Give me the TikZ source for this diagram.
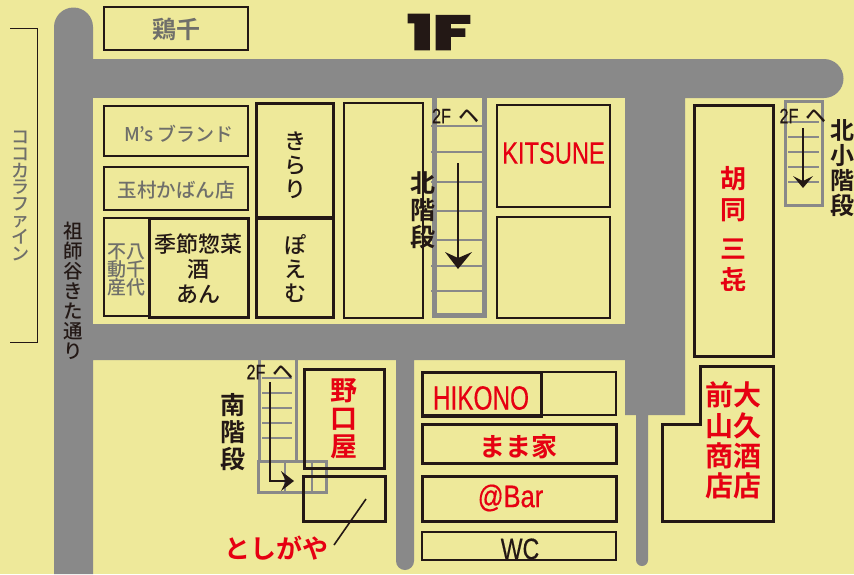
\documentclass[tikz,border=0pt]{standalone}
\usepackage{fontspec}
\newfontfamily\jp{Noto Sans CJK JP Medium}
\newfontfamily\jpb{Noto Sans CJK JP Bold}
\newfontfamily\lat[FakeBold=0.5]{Liberation Sans}
\newfontfamily\logo[FakeBold=5]{Poppins}
\definecolor{bg}{HTML}{EEE99A}
\definecolor{road}{HTML}{898989}
\definecolor{ink}{HTML}{231815}
\definecolor{soft}{HTML}{6F6F6A}
\definecolor{redt}{HTML}{E60012}
\newcommand{\fs}[2]{\fontsize{#1}{#2}\selectfont}
\newcommand{\twof}{{\scalebox{.86}[1.1]{\lat\fs{19}{19}2F}\hspace{7pt}}{\jp\fs{21}{18}ヘ}}
\tikzset{
  thick box/.style={draw=ink,line width=3pt,fill=none},
  thin box/.style={draw=ink,line width=1.2pt,fill=none},
  stair/.style={draw=road,line width=3pt},
  rung/.style={draw=road,line width=2.6pt},
  arr/.style={draw=ink,line width=2pt},
  head/.style={fill=ink,draw=none},
  lab/.style={inner sep=0pt,outer sep=0pt,align=center,text=ink},
}
\begin{document}
\begin{tikzpicture}[x=1pt,y=-1pt]
\useasboundingbox (0,0) rectangle (854,574);
\fill[bg] (0,0) rectangle (854,574);
% roads
\fill[road] (54,574) -- (54,27) arc[start angle=180,end angle=360,radius=19.5] -- (93,59) -- (824,59) arc[start angle=-90,end angle=90,radius=19.5] -- (685,98) -- (685,415) -- (648,415) -- (648,560) arc[start angle=0,end angle=180,radius=6] -- (636,415) -- (625,415) -- (625,360) -- (414,360) -- (414,561) arc[start angle=0,end angle=180,radius=9] -- (396,360) -- (93,360) -- (93,574) -- cycle;
\fill[bg] (93,98) rectangle (625,324);
% bracket
\coordinate (br1) at (10,28); \coordinate (br2) at (37,28); \coordinate (br3) at (37,342); \coordinate (br4) at (10,342);
\draw[ink,line width=1pt] (br1) -- (br2) -- (br3) -- (br4);
\node[lab,text=soft,font=\jp\fs{18}{16.6}] (cocokara) at (21,196) {コ\\コ\\カ\\ラ\\フ\\ァ\\イ\\ン};
\node[lab,font=\jp\fs{19.5}{20}] (street) at (73,291) {祖\\師\\谷\\き\\た\\通\\り};
% top
\node[thin box,minimum width=144pt,minimum height=43pt,inner sep=0] (tori) at (176,28.5) {};
\node[lab,text=soft,font=\jpb\fs{24}{24}] at (176,29) {鶏千};
\node[lab,font=\logo\bfseries\fs{47}{47}] (oneF) at (439,32) {\scalebox{1.45}[1]{1F}};
% left block
\node[thin box,minimum width=144pt,minimum height=50pt,inner sep=0] (ms) at (176,131) {};
\node[lab,text=soft,font=\jp\fs{19}{19}] at (179,134) {M’s ブランド};
\node[thin box,minimum width=144pt,minimum height=43pt,inner sep=0] (tamura) at (176,188.5) {};
\node[lab,text=soft,font=\jp\fs{19.5}{20}] at (176,190) {玉村かばん店};
\node[thin box,minimum width=45pt,minimum height=98pt,inner sep=0] (fudo) at (126.5,267) {};
\node[lab,text=soft,font=\jp\fs{19}{18}] at (126,270) {不八\\動千\\産代};
\node[thick box,minimum width=99pt,minimum height=99pt,inner sep=0] (kisetsu) at (198.5,267.5) {};
\node[lab,font=\jp\fs{22}{25}] at (198.5,269) {季節惣菜\\酒\\あん};
\node[thick box,minimum width=77pt,minimum height=114pt,inner sep=0] (kirari) at (294.5,160) {};
\node[lab,font=\jp\fs{22}{24}] at (295,165) {き\\ら\\り};
\node[thick box,minimum width=77pt,minimum height=99pt,inner sep=0] (poemu) at (294.5,267.5) {};
\node[lab,font=\jp\fs{22}{24}] at (295,269) {ぽ\\え\\む};
\node[thin box,minimum width=79pt,minimum height=215pt,inner sep=0] (empty1) at (383.5,210.5) {};
% north stairs
\foreach \y [count=\i] in {126,152,182,211,240,266,291} {
  \coordinate (nl\i) at (431,\y); \coordinate (nr\i) at (484,\y);
  \draw[rung] (nl\i) -- (nr\i);
}
\draw[stair,line width=5pt] (434.5,98) -- (434.5,315.5) -- (484.5,315.5) -- (484.5,98);
\node[lab] (n2f) at (455.5,116) {\twof};
\node[lab,font=\jpb\fs{25}{27}] (kita) at (423,210) {北\\階\\段};
\coordinate (na1) at (458,163); \coordinate (na2) at (458,262);
\draw[arr] (na1) -- (na2);
\fill[head] (445,252) -- (458,258) -- (472,252) -- (458,269) -- cycle;
% kitsune
\node[thick box,line width=2.4pt,minimum width=113pt,minimum height=102pt,inner sep=0] (kitsune) at (553.5,156) {};
\node[lab,text=redt,font=\lat\fs{28}{28}] at (553.5,153) {\scalebox{.845}[1.1]{KITSUNE}};
\node[thin box,minimum width=113pt,minimum height=101pt,inner sep=0] (empty2) at (553.5,267.5) {};
% hutong
\node[thick box,minimum width=79pt,minimum height=251pt,inner sep=0] (huton) at (733.5,230.5) {};
\node[lab,text=redt,font=\jpb\fs{26}{31}] at (733,229) {胡\\同\\[8pt]三\\㐂};
% right stairs
\draw[stair] (785,101) rectangle (822,205);
\foreach \y [count=\i] in {122,137,152,167,182} {
  \coordinate (rl\i) at (788,\y); \coordinate (rr\i) at (819,\y);
  \draw[rung] (rl\i) -- (rr\i);
}
\node[lab] (r2f) at (803,116) {\twof};
\coordinate (ra1) at (803,128); \coordinate (ra2) at (803,182);
\draw[arr] (ra1) -- (ra2);
\fill[head] (793,176) -- (803,181) -- (813,176) -- (803,188) -- cycle;
\node[lab,font=\jpb\fs{24}{25}] (kosho) at (842,168) {北\\小\\階\\段};
% south
\draw[stair] (259,358) -- (259,461) (296,358) -- (296,461);
\draw[stair] (258,461) rectangle (326,492);
\draw[stair,line width=2.5pt] (285,461) -- (285,492) (312,461) -- (312,492);
\foreach \y [count=\i] in {378,393,408,423,438} {
  \coordinate (sl\i) at (262,\y); \coordinate (sr\i) at (292,\y);
  \draw[rung] (sl\i) -- (sr\i);
}
\node[lab] (s2f) at (270,372) {\twof};
\node[lab,font=\jpb\fs{25}{27}] (minami) at (233,432) {南\\階\\段};
\coordinate (sa1) at (270,382); \coordinate (sa2) at (270,481); \coordinate (sa3) at (288,481);
\draw[arr] (sa1) -- (sa2) -- (sa3);
\fill[head] (281,471) -- (286,481) -- (281,491) -- (294,481) -- cycle;
\node[thick box,minimum width=80pt,minimum height=99pt,inner sep=0] (noguchi) at (344,418.5) {};
\node[lab,text=redt,font=\jpb\fs{27}{28}] at (344,419) {野\\口\\屋};
\node[thick box,minimum width=82pt,minimum height=45pt,inner sep=0] (toshi) at (344,498.5) {};
\node[lab,text=redt,font=\jpb\fs{26}{26}] (toshil) at (276,548) {としがや};
\coordinate (tl1) at (366,499); \coordinate (tl2) at (334,545);
\draw[ink,line width=1.6pt] (tl1) -- (tl2);
% middle shops
\node[thin box,minimum width=194pt,minimum height=43pt,inner sep=0] (hikback) at (519,393.5) {};
\node[thick box,minimum width=119pt,minimum height=44pt,inner sep=0] (hikono) at (481.5,394) {};
\node[lab,text=redt,font=\lat\fs{28}{28}] at (481,398) {\scalebox{.87}[1.2]{HIKONO}};
\node[thick box,minimum width=194pt,minimum height=39pt,inner sep=0] (mama) at (519,443.5) {};
\node[lab,text=redt,font=\jpb\fs{26}{26}] at (518,447) {まま家};
\node[thick box,minimum width=194pt,minimum height=45pt,inner sep=0] (bar) at (519,498.5) {};
\node[lab,font=\lat\fs{26}{26},text=redt] at (510.5,498) {\scalebox{.98}[1.2]{@Bar}};
\node[thin box,minimum width=194pt,minimum height=28pt,inner sep=0] (wc) at (519,546) {};
\node[lab,font=\lat\fs{22}{22}] at (520,549) {\scalebox{1.05}[1.35]{WC}};
% right shop
\draw[thick box] (700,366) -- (773,366) -- (773,521) -- (662,521) -- (662,424) -- (700,424) -- cycle;
\node[lab,text=redt,font=\jpb\fs{28}{30.3}] (oku) at (733.5,440.5) {前大\\山久\\商酒\\店店};
\end{tikzpicture}
\end{document}
